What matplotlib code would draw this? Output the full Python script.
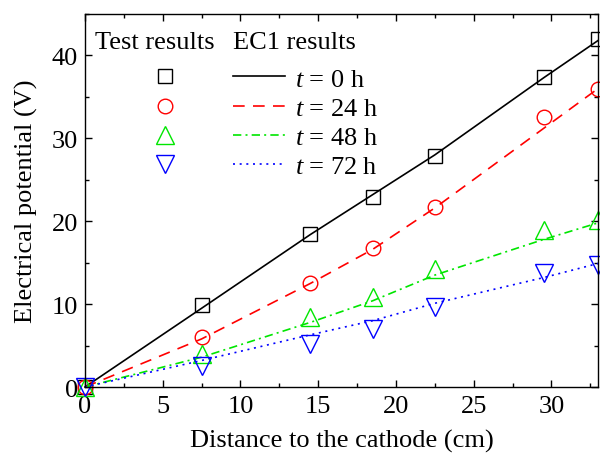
import numpy as np
import matplotlib
matplotlib.use('Agg')
import matplotlib.pyplot as plt
from matplotlib.lines import Line2D
from matplotlib.ticker import MultipleLocator

plt.rcParams.update({'font.family': 'Liberation Serif', 'font.size': 19,
                     'mathtext.fontset': 'custom', 'mathtext.it': 'Liberation Serif:italic',
                     'mathtext.rm': 'Liberation Serif'})

# measured potentials (markers)
x_test = [0, 7.5, 14.5, 18.5, 22.5, 29.5, 33]
test_0h = [0, 9.9, 18.4, 22.9, 27.9, 37.4, 42.0]
test_24h = [0, 6.0, 12.6, 16.8, 21.7, 32.6, 36.0]
test_48h = [0, 4.0, 8.4, 10.8, 14.2, 19.0, 20.2]
test_72h = [0, 2.5, 5.2, 7.0, 9.7, 13.8, 14.7]

# EC1 model curves
x_ec1 = [0, 7.5, 14.5, 18.5, 22.5, 29.5, 33]
ec1_0h = [0, 9.5, 18.4, 23.2, 28.0, 37.3, 41.8]
ec1_24h = [0, 5.8, 12.5, 16.6, 21.6, 31.2, 36.0]
ec1_48h = [0, 3.6, 7.8, 10.4, 13.5, 17.8, 19.8]
ec1_72h = [0, 3.2, 6.3, 8.0, 10.1, 13.2, 14.9]

labels = ['0', '24', '48', '72']
colors = ['black', '#ff0000', '#00e600', '#0000ff']
markers = ['s', 'o', '^', 'v']
msizes = [10, 10.5, 12.5, 12.5]
styles = ['-', (0, (7, 5)), (0, (5, 2.5, 1.2, 2.5)), (0, (1.2, 2.8))]

fig = plt.figure(figsize=(6, 4.6), dpi=100)
ax = fig.add_axes([0.1417, 0.1565, 0.855, 0.8109])

tests = [test_0h, test_24h, test_48h, test_72h]
ec1s = [ec1_0h, ec1_24h, ec1_48h, ec1_72h]
for yt, ye, c, m, ms, ls in zip(tests, ec1s, colors, markers, msizes, styles):
    ax.plot(x_ec1, ye, color=c, ls=ls, lw=1.2, clip_on=False)
    ax.plot(x_test, yt, m, mfc='none', mec=c, mew=1.0, ms=ms, clip_on=False)

ax.set_xlim(0, 33)
ax.set_ylim(0, 45)
ax.xaxis.set_major_locator(MultipleLocator(5))
ax.xaxis.set_minor_locator(MultipleLocator(2.5))
ax.yaxis.set_major_locator(MultipleLocator(10))
ax.yaxis.set_minor_locator(MultipleLocator(5))
ax.tick_params(which='both', direction='in', top=True, right=True, width=1.0)
ax.tick_params(which='major', length=5, labelsize=19)
ax.tick_params(axis='x', which='major', pad=6)
ax.tick_params(axis='y', which='major', pad=5)
ax.tick_params(which='minor', length=3)
for s in ax.spines.values():
    s.set_linewidth(1.0)
ax.set_xlabel('Distance to the cathode (cm)', fontsize=19, labelpad=8)
ax.set_ylabel('Electrical potential (V)', fontsize=19, labelpad=10)

# two-column key: markers for tests, lines for EC1
ax.text(0.02, 0.925, 'Test results', transform=ax.transAxes, fontsize=19, va='center')
ax.text(0.288, 0.925, 'EC1 results', transform=ax.transAxes, fontsize=19, va='center')
mk_handles = [Line2D([], [], ls='none', marker=m, mfc='none', mec=c, mew=1.0, ms=ms)
              for c, m, ms in zip(colors, markers, msizes)]
ln_handles = [Line2D([], [], color=c, ls=ls, lw=1.2) for c, ls in zip(colors, styles)]
leg1 = ax.legend(mk_handles, [''] * 4, loc='upper left', bbox_to_anchor=(0.104, 0.893),
                 frameon=False, handlelength=1.0, labelspacing=0.22, fontsize=19,
                 borderpad=0, handletextpad=0)
ax.add_artist(leg1)
ax.legend(ln_handles, ['$t$ = %s h' % l for l in labels], loc='upper left',
          bbox_to_anchor=(0.262, 0.893), frameon=False, handlelength=2.0,
          labelspacing=0.22, fontsize=19, borderpad=0, handletextpad=0.35)

fig.savefig('out.png', dpi=100)
